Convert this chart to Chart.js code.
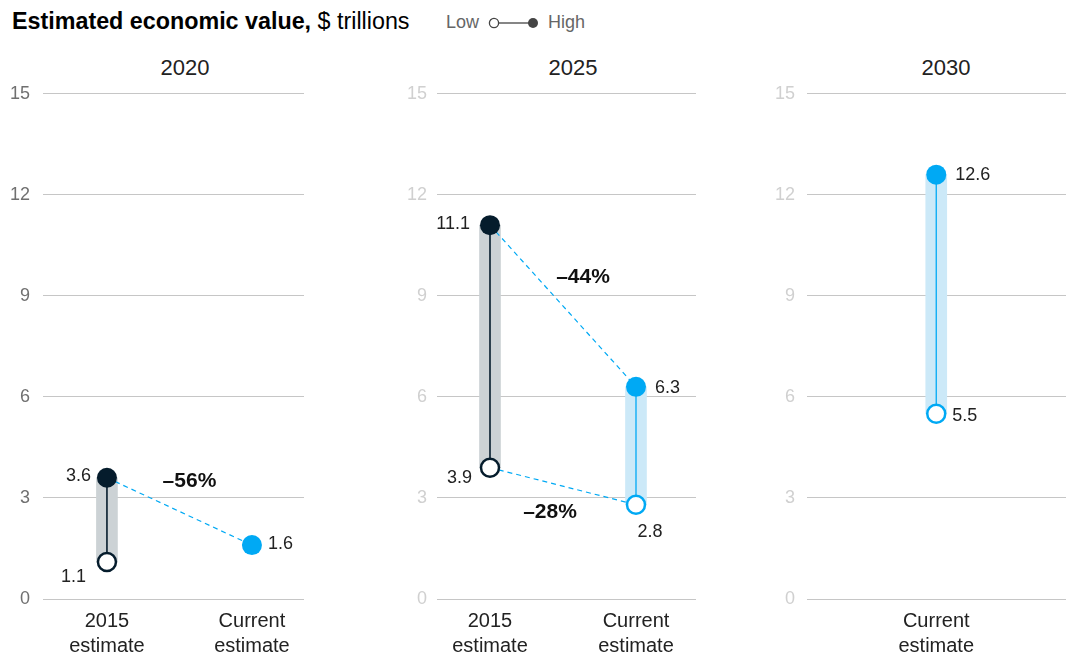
<!DOCTYPE html>
<html><head><meta charset="utf-8">
<script src="https://cdn.jsdelivr.net/npm/chart.js@4.4.1/dist/chart.umd.min.js"></script>
<style>
html,body{margin:0;padding:0;background:#fff;width:1066px;height:655px;overflow:hidden;font-family:'Liberation Sans',Arial,sans-serif;}
.title{position:absolute;left:12px;top:8px;font-size:23.3px;color:#000;white-space:nowrap;}
.title b{font-weight:700}
.legend{position:absolute;left:446px;top:12px;font-size:18px;color:#666;display:flex;align-items:center;white-space:nowrap;}
.legend svg{margin:0 8px 0 9px}
.ptitle{position:absolute;top:55px;font-size:22px;color:#222;transform:translateX(-50%);white-space:nowrap;}
.wrap{position:absolute;}
</style></head><body>
<div class="title"><b>Estimated economic value,</b> $ trillions</div>
<div class="legend"><span>Low</span><svg width="52" height="14" viewBox="0 0 52 14"><line x1="11" y1="7" x2="42" y2="7" stroke="#444" stroke-width="1.3"/><circle cx="6" cy="7" r="4.6" fill="#fff" stroke="#444" stroke-width="1.3"/><circle cx="45" cy="7" r="5" fill="#444"/></svg><span>High</span></div>
<div id="root"></div>
<script>
// ---- data ----
const years = ['2020', '2025', '2030'];
const estimateLabels = [['2015', 'estimate'], ['Current', 'estimate']];
const high2015 = [3.6, 11.1, null];
const low2015 = [1.1, 3.9, null];
const highCurrent = [1.6, 6.3, 12.6];
const lowCurrent = [null, 2.8, 5.5];
const changeHigh = ['–56%', '–44%', null];
const changeLow = [null, '–28%', null];
const yTicks = [0, 3, 6, 9, 12, 15];

// ---- styles ----
const NAVY = '#051c2c', BLUE = '#00a9f4', GRAY_BAND = '#ccd2d5', BLUE_BAND = '#cce9f8';
const GRID = '#c6c6c6';
const TICK_SIZE = 18;
const panels = [
  {left: 0, width: 320, padRight: 16, yWidth: 43, yPad: 13, xMin: -0.441, xMax: 1.359, tickColor: '#707070', titleX: 185,
   off: {high2015: [-16, -2, 'right'], low2015: [-21, 15, 'right'], highCurrent: [16, -1, 'left'], lowCurrent: [16, 0, 'left']},
   pctHigh: [10, -30], pctLow: [0, 0]},
  {left: 380, width: 330, padRight: 14, yWidth: 57, yPad: 10, xMin: -0.363, xMax: 1.411, tickColor: '#d0d0d0', titleX: 573,
   off: {high2015: [-20, -1, 'right'], low2015: [-18, 10, 'right'], highCurrent: [19, 1, 'left'], lowCurrent: [14, 27, 'center']},
   pctHigh: [20, -29], pctLow: [-13, 26]},
  {left: 760, width: 318, padRight: 0, yWidth: 47, yPad: 12, xMin: 0.104, xMax: 1.903, tickColor: '#d0d0d0', titleX: 946,
   off: {high2015: [-18, 0, 'right'], low2015: [-18, 10, 'right'], highCurrent: [19, 0, 'left'], lowCurrent: [16, 2, 'left']},
   pctHigh: [0, 0], pctLow: [0, 0]}
];
const FONT = "'Liberation Sans', Arial, sans-serif";
const PLOT_TOP = 94, PAGE_BOTTOM = 655;

const root = document.getElementById('root');

years.forEach((yr, p) => {
  const P = panels[p];
  const t = document.createElement('div');
  t.className = 'ptitle'; t.style.left = P.titleX + 'px'; t.textContent = yr;
  root.appendChild(t);
  const top = PLOT_TOP - Math.round(TICK_SIZE * 1.2 / 2 + P.yPad);
  const h = PAGE_BOTTOM - top;
  const wrap = document.createElement('div');
  wrap.className = 'wrap'; wrap.style.left = P.left + 'px'; wrap.style.top = top + 'px';
  const cv = document.createElement('canvas');
  cv.width = P.width; cv.height = h;
  cv.style.width = P.width + 'px'; cv.style.height = h + 'px';
  wrap.appendChild(cv); root.appendChild(wrap);

  const present = [];
  if (high2015[p] != null) present.push(0);
  if (highCurrent[p] != null) present.push(1);

  const datasets = [];
  const bandData = [], bandColors = [];
  if (low2015[p] != null && high2015[p] != null) { bandData.push({x: 0, y: [low2015[p], high2015[p]]}); bandColors.push(GRAY_BAND); }
  if (lowCurrent[p] != null && highCurrent[p] != null) { bandData.push({x: 1, y: [lowCurrent[p], highCurrent[p]]}); bandColors.push(BLUE_BAND); }
  datasets.push({type: 'bar', data: bandData, backgroundColor: bandColors, barThickness: 21, borderWidth: 0, order: 10});
  if (low2015[p] != null && high2015[p] != null)
    datasets.push({type: 'line', data: [{x: 0, y: low2015[p]}, {x: 0, y: high2015[p]}], borderColor: NAVY, borderWidth: 1.6, pointRadius: 0, order: 8});
  if (lowCurrent[p] != null && highCurrent[p] != null)
    datasets.push({type: 'line', data: [{x: 1, y: lowCurrent[p]}, {x: 1, y: highCurrent[p]}], borderColor: BLUE, borderWidth: 1.3, pointRadius: 0, order: 8});
  if (high2015[p] != null && highCurrent[p] != null)
    datasets.push({type: 'line', data: [{x: 0, y: high2015[p]}, {x: 1, y: highCurrent[p]}], borderColor: BLUE, borderWidth: 1.2, borderDash: [5, 4], pointRadius: 0, order: 7, _pct: changeHigh[p], _pctOff: P.pctHigh});
  if (low2015[p] != null && lowCurrent[p] != null)
    datasets.push({type: 'line', data: [{x: 0, y: low2015[p]}, {x: 1, y: lowCurrent[p]}], borderColor: BLUE, borderWidth: 1.2, borderDash: [5, 4], pointRadius: 0, order: 7, _pct: changeLow[p], _pctOff: P.pctLow});
  const pts = [
    {key: 'high2015', v: high2015[p], x: 0, filled: true, color: NAVY},
    {key: 'low2015', v: low2015[p], x: 0, filled: false, color: NAVY},
    {key: 'highCurrent', v: highCurrent[p], x: 1, filled: true, color: BLUE},
    {key: 'lowCurrent', v: lowCurrent[p], x: 1, filled: false, color: BLUE}
  ];
  pts.forEach(pt => {
    if (pt.v == null) return;
    datasets.push({type: 'scatter', data: [{x: pt.x, y: pt.v}],
      pointRadius: pt.filled ? 10 : 9, pointBackgroundColor: pt.filled ? pt.color : '#fff',
      pointBorderColor: pt.color, pointBorderWidth: pt.filled ? 0 : 2.5, order: 1,
      _label: pt.v.toFixed(1), _off: P.off[pt.key]});
  });

  const labelPlugin = {
    id: 'labels' + p,
    afterDatasetsDraw(chart) {
      const ctx = chart.ctx;
      const xs = chart.scales.x, ys = chart.scales.y;
      ctx.save();
      chart.data.datasets.forEach(ds => {
        if (ds._label) {
          const d = ds.data[0];
          const px = xs.getPixelForValue(d.x) + ds._off[0];
          const py = ys.getPixelForValue(d.y) + ds._off[1];
          ctx.font = '18px ' + FONT; ctx.fillStyle = '#222';
          ctx.textAlign = ds._off[2]; ctx.textBaseline = 'middle';
          ctx.fillText(ds._label, px, py);
        }
        if (ds._pct) {
          const a = ds.data[0], b = ds.data[1];
          const mx = (xs.getPixelForValue(a.x) + xs.getPixelForValue(b.x)) / 2 + ds._pctOff[0];
          const my = (ys.getPixelForValue(a.y) + ys.getPixelForValue(b.y)) / 2 + ds._pctOff[1];
          ctx.font = 'bold 21px ' + FONT; ctx.fillStyle = '#111';
          ctx.textAlign = 'center'; ctx.textBaseline = 'middle';
          ctx.fillText(ds._pct, mx, my);
        }
      });
      ctx.restore();
    }
  };

  new Chart(cv, {
    type: 'scatter',
    data: {datasets},
    plugins: [labelPlugin],
    options: {
      responsive: false, animation: false, devicePixelRatio: 1,
      layout: {padding: {top: 0, right: P.padRight, left: 0, bottom: 0}},
      plugins: {legend: {display: false}, tooltip: {enabled: false}, title: {display: false}},
      scales: {
        x: {type: 'linear', min: P.xMin, max: P.xMax, offset: false,
          grid: {display: false, drawTicks: false}, border: {display: false},
          afterBuildTicks: s => { s.ticks = present.map(v => ({value: v})); },
          afterFit: s => { s.height = 56; },
          ticks: {autoSkip: false, maxRotation: 0, padding: 10, color: '#222',
            font: {family: FONT, size: 20, lineHeight: 1.25},
            callback: v => estimateLabels[v]}},
        y: {type: 'linear', min: yTicks[0], max: yTicks[yTicks.length - 1],
          grid: {color: GRID, lineWidth: 1, drawTicks: false}, border: {display: false},
          afterBuildTicks: s => { s.ticks = yTicks.map(v => ({value: v})); },
          afterFit: s => { s.width = P.yWidth; },
          ticks: {padding: P.yPad, color: P.tickColor, font: {family: FONT, size: TICK_SIZE}}}
      }
    }
  });
});
</script>
</body></html>
